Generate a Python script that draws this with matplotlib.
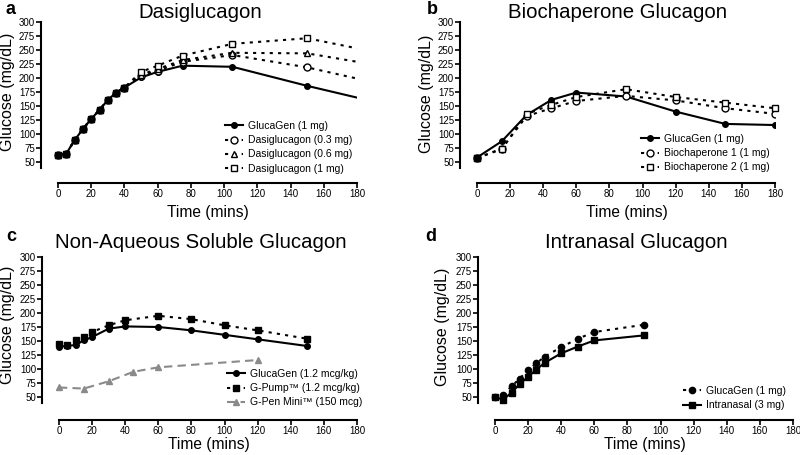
import matplotlib
matplotlib.use('Agg')
import matplotlib.pyplot as plt

plt.rcParams['font.family'] = ['Liberation Sans', 'DejaVu Sans']

# a: Dasiglucagon
t_a = [0, 5, 10, 15, 20, 25, 30, 35, 40, 50, 60, 75, 105, 150, 180]
glucagen_a = [62, 65, 89, 109, 127, 143, 161, 174, 183, 201, 211, 222, 220, 186, 165]
dasi_03 = [62, 65, 89, 109, 127, 143, 161, 174, 183, 204, 213, 229, 241, 219, 199]
dasi_06 = [62, 65, 89, 109, 127, 143, 161, 174, 183, 206, 216, 232, 245, 244, 229]
dasi_1 = [62, 65, 89, 109, 127, 143, 161, 174, 183, 211, 222, 240, 261, 271, 253]

# b: Biochaperone Glucagon
t_b = [0, 15, 30, 45, 60, 90, 120, 150, 180]
glucagen_b = [58, 87, 134, 161, 174, 167, 140, 118, 116]
bio_1 = [57, 74, 132, 146, 159, 168, 160, 146, 136]
bio_2 = [57, 73, 136, 152, 166, 180, 166, 156, 146]

# c: Non-Aqueous Soluble Glucagon
t_c = [0, 5, 10, 15, 20, 30, 40, 60, 80, 100, 120, 150]
glucagen_c = [140, 141, 143, 151, 157, 172, 176, 175, 169, 161, 153, 141]
gpump_c = [145, 143, 152, 157, 166, 178, 187, 195, 189, 178, 169, 154]
t_pen = [0, 15, 30, 45, 60, 120]
gpen_c = [67, 65, 78, 95, 103, 116]

# d: Intranasal Glucagon
t_d = [0, 5, 10, 15, 20, 25, 30, 40, 50, 60, 90]
glucagen_d = [50, 53, 69, 83, 98, 110, 122, 139, 154, 166, 179]
intranasal_d = [50, 45, 58, 73, 86, 99, 111, 128, 140, 151, 160]

W, H = 800, 455
fig = plt.figure(figsize=(8, 4.55), dpi=100)

DOT = (0, (1.5, 2.5))
DASH = (0, (4, 2.5))


def px(x, y):
    return x / W, 1 - y / H


def make_ax(left, top, right, bottom, ylo):
    ax = fig.add_axes([left / W, 1 - bottom / H, (right - left) / W, (bottom - top) / H])
    ax.set_xlim(-10, 180)
    ax.set_ylim(ylo, 300)
    ax.spines[['top', 'right']].set_visible(False)
    ax.spines['left'].set_bounds(40, 300)
    ax.spines['bottom'].set_bounds(0, 180)
    for s in ('left', 'bottom'):
        ax.spines[s].set_linewidth(1.5)
    ax.set_xticks(range(0, 181, 20))
    ax.set_yticks(range(50, 301, 25))
    ax.tick_params(labelsize=7, length=3.5, width=1.2, pad=1)
    return ax


def labels(title, tx, ty, letter, lx, ly, yx, yy, xx, xy):
    fig.text(*px(tx, ty), title, fontsize=14.7, ha='center', va='center')
    fig.text(*px(lx, ly), letter, fontsize=13, fontweight='bold', ha='center', va='center')
    fig.text(*px(yx, yy), 'Glucose (mg/dL)', fontsize=11.5, rotation=90, ha='center', va='center')
    fig.text(*px(xx, xy), 'Time (mins)', fontsize=11.2, ha='center', va='center')


def legend(ax, x, y):
    ax.legend(loc='upper left', bbox_to_anchor=px(x, y), bbox_transform=fig.transFigure,
              frameon=False, fontsize=7.5, handlelength=1.75, handletextpad=0.5,
              labelspacing=0.4, borderpad=0, borderaxespad=0)


# panel a
ax = make_ax(41.4, 22, 357, 183, 12.5)
last = list(range(len(t_a) - 1))
ax.plot(t_a, glucagen_a, '-', color='black', lw=1.5, marker='o', ms=4, markevery=last,
        label='GlucaGen (1 mg)')
ax.plot(t_a, dasi_03, linestyle=DOT, color='black', lw=1.5, marker='o', ms=5, mfc='white',
        mew=1, markevery=last, label='Dasiglucagon (0.3 mg)')
ax.plot(t_a, dasi_06, linestyle=DOT, color='black', lw=1.5, marker='^', ms=5, mfc='white',
        mew=1, markevery=last, label='Dasiglucagon (0.6 mg)')
ax.plot(t_a, dasi_1, linestyle=DOT, color='black', lw=1.5, marker='s', ms=5, mfc='white',
        mew=1, markevery=last[9:], label='Dasiglucagon (1 mg)')
ax.plot(t_a[:9], dasi_1[:9], 's', color='black', ms=5, clip_on=False)
legend(ax, 225, 121)
labels('Dasiglucagon', 200, 12, 'a', 11, 10, 8, 92, 208, 213)

# panel b
ax = make_ax(460.4, 22, 775, 183, 12.5)
ax.plot(t_b, glucagen_b, '-', color='black', lw=1.5, marker='o', ms=4, label='GlucaGen (1 mg)')
ax.plot(t_b, bio_1, linestyle=DOT, color='black', lw=1.5, marker='o', ms=5, mfc='white',
        mew=1, label='Biochaperone 1 (1 mg)')
ax.plot(t_b, bio_2, linestyle=DOT, color='black', lw=1.5, marker='s', ms=5, mfc='white',
        mew=1, label='Biochaperone 2 (1 mg)', clip_on=False)
ax.plot(t_b[:1], bio_2[:1], 's', color='black', ms=5, clip_on=False)
legend(ax, 641, 134)
labels('Biochaperone Glucagon', 618, 12, 'b', 432, 10, 426, 94, 627, 213)

# panel c
ax = make_ax(42.4, 257, 357, 420, 8.9)
ax.plot(t_c, glucagen_c, '-', color='black', lw=1.5, marker='o', ms=4,
        label='GlucaGen (1.2 mcg/kg)')
ax.plot(t_c, gpump_c, linestyle=DOT, color='black', lw=1.5, marker='s', ms=4.5,
        label='G-Pump™ (1.2 mcg/kg)')
ax.plot(t_pen, gpen_c, linestyle=DASH, color='#8a8a8a', lw=1.5, marker='^', ms=4,
        label='G-Pen Mini™ (150 mcg)')
legend(ax, 227, 369)
labels('Non-Aqueous Soluble Glucagon', 201, 243, 'c', 11, 236, 8, 325, 209, 445)

# panel d
ax = make_ax(478.4, 257, 793, 420, 8.9)
ax.plot(t_d, glucagen_d, linestyle=DOT, color='black', lw=1.5, marker='o', ms=4.5,
        label='GlucaGen (1 mg)')
ax.plot(t_d, intranasal_d, '-', color='black', lw=1.5, marker='s', ms=4.5,
        label='Intranasal (3 mg)')
legend(ax, 683, 386)
labels('Intranasal Glucagon', 636, 243, 'd', 431, 236, 443, 327, 645, 445)

fig.savefig('out.png', dpi=100)
